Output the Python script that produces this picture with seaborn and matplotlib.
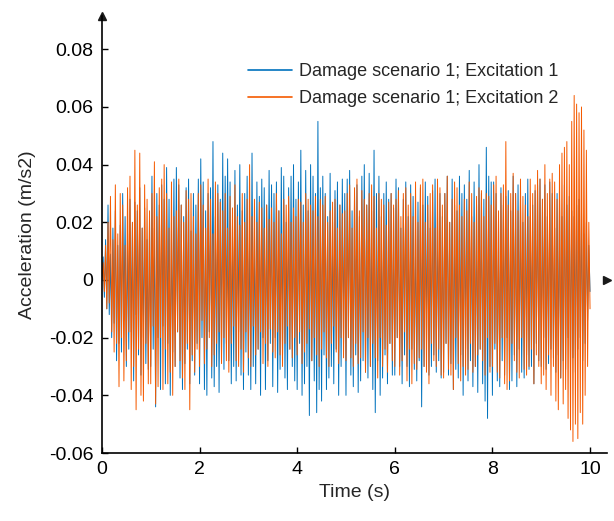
import numpy as np
import pandas as pd
import seaborn as sns
import matplotlib.pyplot as plt

# sampled acceleration (x 1e-3 m/s2), one value every 0.025 s from 0 to 10 s
dt = 0.025
exc1 = [
    0, 8, -6, 14, -10, 26, -12, 9, -20, 18, -15, 24, -28, 12, -22, 19, -25, 30, -14, 22,
    -30, 16, -24, 28, -18, 20, -35, 27, -12, 24, -26, 32, -33, 18, -20, 25, -29, 14, -31, 22,
    -30, 36, -24, 18, -44, 30, -20, 26, -38, 33, -16, 28, -36, 39, -22, 28, -40, 20, -25, 35,
    -30, 39, -18, 33, -34, 26, -38, 22, -29, 32, -24, 35, -36, 17, -28, 30, -33, 26, -22, 35,
    -36, 42, -20, 34, -38, 24, -40, 30, -18, 32, -34, 48, -37, 22, -30, 33, -39, 28, -26, 44,
    -31, 36, -22, 42, -28, 34, -36, 20, -30, 38, -35, 26, -18, 40, -33, 24, -38, 30, -25, 36,
    -33, 22, -38, 44, -30, 18, -36, 34, -24, 29, -40, 35, -20, 32, -38, 26, -28, 38, -22, 33,
    -37, 30, -20, 34, -39, 24, -31, 39, -26, 36, -34, 20, -38, 32, -24, 36, -30, 40, -35, 28,
    -38, 34, -22, 45, -40, 26, -36, 38, -30, 24, -47, 40, -28, 36, -35, 30, -46, 55, -38, 32,
    -42, 36, -26, 30, -38, 22, -34, 37, -30, 20, -36, 31, -24, 34, -40, 26, -30, 35, -22, 30,
    -40, 35, -20, 38, -33, 24, -37, 30, -26, 33, -39, 22, -35, 36, -28, 40, -32, 26, -34, 37,
    -30, 24, -38, 45, -46, 30, -28, 36, -40, 22, -34, 30, -26, 34, -36, 28, -22, 30, -33, 25,
    -33, 35, -20, 32, -30, 18, -36, 28, -26, 34, -30, 22, -37, 33, -24, 29, -31, 20, -35, 27,
    -28, 32, -44, 26, -30, 34, -22, 29, -33, 18, -30, 31, -26, 35, -32, 24, -28, 30, -34, 22,
    -32, 30, -22, 36, -33, 20, -29, 35, -38, 26, -31, 24, -34, 36, -26, 30, -40, 33, -24, 28,
    -35, 38, -28, 22, -37, 34, -30, 26, -39, 40, -24, 30, -36, 28, -42, 46, -48, 36, -30, 34,
    -40, 34, -24, 30, -35, 22, -37, 32, -28, 26, -33, 29, -20, 31, -38, 24, -35, 36, -26, 30,
    -37, 33, -24, 28, -32, 20, -34, 30, -26, 35, -31, 22, -30, 26, -36, 31, -22, 33, -28, 35,
    -30, 28, -20, 33, -31, 22, -29, 34, -24, 30, -27, 18, -32, 30, -26, 28, -34, 22, -28, 33,
    -31, 26, -20, 29, -30, 24, -27, 22, -32, 26, -24, 28, -20, 24, -28, 16, -22, 20, -14, 12,
    -4,
]
exc2 = [
    0, 6, -4, 12, -10, 20, -8, 29, -18, 14, -25, 33, -22, 16, -37, 30, -20, 26, -35, 12,
    -28, 32, -18, 36, -38, 20, -30, 45, -45, 26, -24, 44, -40, 18, -42, 33, -22, 28, -36, 24,
    -36, 30, -16, 41, -43, 22, -37, 32, -20, 35, -38, 40, -24, 30, -36, 18, -32, 34, -40, 22,
    -30, 24, -18, 35, -28, 26, -34, 20, -38, 31, -22, 28, -45, 30, -26, 22, -32, 16, -24, 30,
    -30, 33, -14, 26, -29, 18, -24, 35, -20, 28, -30, 16, -26, 34, -22, 30, -18, 27, -29, 24,
    -20, 30, -28, 18, -32, 29, -22, 25, -16, 33, -28, 22, -30, 19, -24, 30, -32, 20, -18, 28,
    -27, 40, -30, 22, -16, 28, -26, 20, -24, 27, -18, 25, -29, 18, -22, 26, -30, 21, -17, 25,
    -25, 20, -27, 30, -18, 24, -26, 16, -30, 28, -22, 26, -16, 29, -24, 20, -27, 25, -20, 22,
    -26, 28, -18, 27, -29, 20, -25, 30, -22, 28, -17, 26, -28, 24, -20, 29, -26, 22, -30, 28,
    -24, 26, -18, 29, -27, 20, -30, 24, -22, 27, -16, 28, -25, 18, -29, 26, -20, 23, -27, 24,
    -28, 30, -20, 33, -27, 18, -30, 32, -22, 35, -29, 24, -27, 31, -18, 28, -32, 26, -20, 30,
    -30, 33, -22, 29, -27, 18, -34, 30, -20, 28, -30, 26, -24, 19, -32, 27, -22, 30, -28, 26,
    -30, 28, -20, 31, -33, 22, -28, 30, -18, 32, -35, 26, -24, 30, -36, 22, -29, 34, -31, 20,
    -27, 33, -24, 35, -30, 20, -32, 26, -36, 30, -22, 33, -28, 18, -30, 35, -24, 32, -33, 26,
    -34, 30, -22, 36, -31, 20, -33, 28, -38, 34, -20, 32, -29, 26, -35, 22, -30, 28, -33, 24,
    -31, 34, -22, 30, -32, 20, -30, 29, -26, 32, -24, 31, -28, 22, -33, 30, -20, 29, -32, 26,
    -30, 33, -22, 36, -32, 24, -34, 30, -20, 33, -36, 48, -38, 26, -35, 30, -22, 37, -28, 30,
    -32, 24, -34, 35, -20, 29, -31, 26, -33, 22, -30, 35, -24, 30, -36, 33, -26, 38, -30, 35,
    -36, 28, -33, 40, -38, 30, -26, 35, -40, 37, -30, 34, -42, 28, -45, 40, -34, 44, -43, 46,
    -38, 48, -48, 40, -52, 55, -56, 64, -50, 61, -55, 58, -46, 60, -50, 52, -40, 45, -30, 20,
    -10,
]
names = ["Damage scenario 1; Excitation 1", "Damage scenario 1; Excitation 2"]
colors = ["#0072BD", "#F55A00"]
yticks = [-0.06, -0.04, -0.02, 0, 0.02, 0.04, 0.06, 0.08]
ytick_labels = ["-0.06", "-0.04", "-0.02", "0", "0.02", "0.04", "0.06", "0.08"]
xticks = [0, 2, 4, 6, 8, 10]

frames = []
for name, vals in zip(names, [exc1, exc2]):
    a = np.array(vals) / 1000.0
    frames.append(pd.DataFrame({"t": np.arange(len(a)) * dt, "a": a, "series": name}))
df = pd.concat(frames, ignore_index=True)

sns.set_theme(style="white")
plt.rcParams["font.family"] = ["Liberation Sans", "DejaVu Sans"]

fig = plt.figure(figsize=(6.14, 5.21), dpi=100)
ax = fig.add_axes([0.166, 0.1305, 0.822, 0.838])

sns.lineplot(data=df, x="t", y="a", hue="series", palette=colors, linewidth=0.7,
             estimator=None, sort=False, ax=ax)

ax.set_xlim(0, 10.34)
ax.set_ylim(-0.06, 0.0914)
ax.set_xticks(xticks)
ax.set_xticklabels([str(v) for v in xticks])
ax.set_yticks(yticks)
ax.set_yticklabels(ytick_labels)
ax.tick_params(direction="in", length=4, width=1, labelsize=14, colors="black",
               bottom=True, left=True, pad=6)
ax.set_xlabel("Time (s)", fontsize=14, labelpad=4)
ax.set_ylabel("Acceleration (m/s2)", fontsize=14, labelpad=9)

for s in ["top", "right"]:
    ax.spines[s].set_visible(False)
for s in ["left", "bottom"]:
    ax.spines[s].set_color("black")
    ax.spines[s].set_linewidth(1.2)

# arrow heads on the axes
ax.plot(1, 0, ">k", markersize=6, transform=ax.get_yaxis_transform(), clip_on=False)
ax.plot(0, 1, "^k", markersize=6, transform=ax.get_xaxis_transform(), clip_on=False)

leg = ax.legend(loc="upper left", bbox_to_anchor=(0.276, 0.91), frameon=False,
                fontsize=13, handlelength=2.4, handletextpad=0.4, labelspacing=0.55,
                borderaxespad=0)
for line in leg.get_lines():
    line.set_linewidth(1.2)

fig.savefig("out.png", dpi=100)
